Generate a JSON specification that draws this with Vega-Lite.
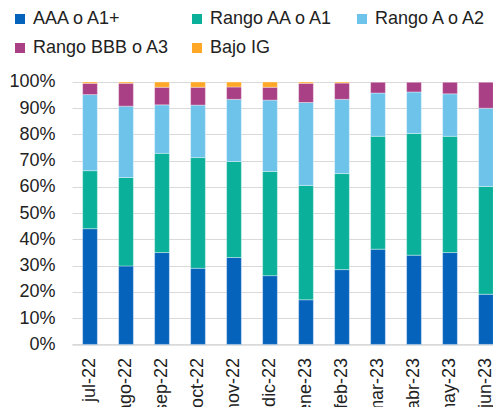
{
  "$schema": "https://vega.github.io/schema/vega-lite/v6.json",
  "autosize": {"type": "none"},
  "padding": {"left": 72, "top": 82, "right": 0, "bottom": 63},
  "width": 432,
  "height": 262.4,
  "background": "white",
  "config": {"view": {"stroke": null}, "font": "Liberation Sans"},
  "data": {"values": [
    {"mes": "jul-22", "serie": "AAA o A1+", "k": 1, "v": 44.1},
    {"mes": "jul-22", "serie": "Rango AA o A1", "k": 2, "v": 22.1},
    {"mes": "jul-22", "serie": "Rango A o A2", "k": 3, "v": 29.0},
    {"mes": "jul-22", "serie": "Rango BBB o A3", "k": 4, "v": 4.3},
    {"mes": "jul-22", "serie": "Bajo IG", "k": 5, "v": 0.5},
    {"mes": "ago-22", "serie": "AAA o A1+", "k": 1, "v": 29.9},
    {"mes": "ago-22", "serie": "Rango AA o A1", "k": 2, "v": 33.7},
    {"mes": "ago-22", "serie": "Rango A o A2", "k": 3, "v": 27.2},
    {"mes": "ago-22", "serie": "Rango BBB o A3", "k": 4, "v": 8.7},
    {"mes": "ago-22", "serie": "Bajo IG", "k": 5, "v": 0.5},
    {"mes": "sep-22", "serie": "AAA o A1+", "k": 1, "v": 35.0},
    {"mes": "sep-22", "serie": "Rango AA o A1", "k": 2, "v": 37.8},
    {"mes": "sep-22", "serie": "Rango A o A2", "k": 3, "v": 18.5},
    {"mes": "sep-22", "serie": "Rango BBB o A3", "k": 4, "v": 6.7},
    {"mes": "sep-22", "serie": "Bajo IG", "k": 5, "v": 2.0},
    {"mes": "oct-22", "serie": "AAA o A1+", "k": 1, "v": 29.0},
    {"mes": "oct-22", "serie": "Rango AA o A1", "k": 2, "v": 42.2},
    {"mes": "oct-22", "serie": "Rango A o A2", "k": 3, "v": 20.0},
    {"mes": "oct-22", "serie": "Rango BBB o A3", "k": 4, "v": 6.8},
    {"mes": "oct-22", "serie": "Bajo IG", "k": 5, "v": 2.0},
    {"mes": "nov-22", "serie": "AAA o A1+", "k": 1, "v": 33.1},
    {"mes": "nov-22", "serie": "Rango AA o A1", "k": 2, "v": 36.6},
    {"mes": "nov-22", "serie": "Rango A o A2", "k": 3, "v": 23.7},
    {"mes": "nov-22", "serie": "Rango BBB o A3", "k": 4, "v": 4.7},
    {"mes": "nov-22", "serie": "Bajo IG", "k": 5, "v": 1.9},
    {"mes": "dic-22", "serie": "AAA o A1+", "k": 1, "v": 26.2},
    {"mes": "dic-22", "serie": "Rango AA o A1", "k": 2, "v": 39.7},
    {"mes": "dic-22", "serie": "Rango A o A2", "k": 3, "v": 27.2},
    {"mes": "dic-22", "serie": "Rango BBB o A3", "k": 4, "v": 4.9},
    {"mes": "dic-22", "serie": "Bajo IG", "k": 5, "v": 2.0},
    {"mes": "ene-23", "serie": "AAA o A1+", "k": 1, "v": 17.0},
    {"mes": "ene-23", "serie": "Rango AA o A1", "k": 2, "v": 43.6},
    {"mes": "ene-23", "serie": "Rango A o A2", "k": 3, "v": 31.6},
    {"mes": "ene-23", "serie": "Rango BBB o A3", "k": 4, "v": 7.3},
    {"mes": "ene-23", "serie": "Bajo IG", "k": 5, "v": 0.5},
    {"mes": "feb-23", "serie": "AAA o A1+", "k": 1, "v": 28.5},
    {"mes": "feb-23", "serie": "Rango AA o A1", "k": 2, "v": 36.6},
    {"mes": "feb-23", "serie": "Rango A o A2", "k": 3, "v": 28.3},
    {"mes": "feb-23", "serie": "Rango BBB o A3", "k": 4, "v": 6.2},
    {"mes": "feb-23", "serie": "Bajo IG", "k": 5, "v": 0.4},
    {"mes": "mar-23", "serie": "AAA o A1+", "k": 1, "v": 36.3},
    {"mes": "mar-23", "serie": "Rango AA o A1", "k": 2, "v": 43.0},
    {"mes": "mar-23", "serie": "Rango A o A2", "k": 3, "v": 16.5},
    {"mes": "mar-23", "serie": "Rango BBB o A3", "k": 4, "v": 4.2},
    {"mes": "mar-23", "serie": "Bajo IG", "k": 5, "v": 0.0},
    {"mes": "abr-23", "serie": "AAA o A1+", "k": 1, "v": 34.0},
    {"mes": "abr-23", "serie": "Rango AA o A1", "k": 2, "v": 46.4},
    {"mes": "abr-23", "serie": "Rango A o A2", "k": 3, "v": 15.8},
    {"mes": "abr-23", "serie": "Rango BBB o A3", "k": 4, "v": 3.8},
    {"mes": "abr-23", "serie": "Bajo IG", "k": 5, "v": 0.0},
    {"mes": "may-23", "serie": "AAA o A1+", "k": 1, "v": 35.0},
    {"mes": "may-23", "serie": "Rango AA o A1", "k": 2, "v": 44.3},
    {"mes": "may-23", "serie": "Rango A o A2", "k": 3, "v": 16.2},
    {"mes": "may-23", "serie": "Rango BBB o A3", "k": 4, "v": 4.5},
    {"mes": "may-23", "serie": "Bajo IG", "k": 5, "v": 0.0},
    {"mes": "jun-23", "serie": "AAA o A1+", "k": 1, "v": 19.1},
    {"mes": "jun-23", "serie": "Rango AA o A1", "k": 2, "v": 41.1},
    {"mes": "jun-23", "serie": "Rango A o A2", "k": 3, "v": 29.8},
    {"mes": "jun-23", "serie": "Rango BBB o A3", "k": 4, "v": 10.0},
    {"mes": "jun-23", "serie": "Bajo IG", "k": 5, "v": 0.0}
  ]},
  "mark": {"type": "bar", "stroke": "white", "strokeWidth": 0.6, "strokeOpacity": 0.6},
  "encoding": {
    "x": {
      "field": "mes", "type": "nominal", "sort": null,
      "scale": {"paddingInner": 0.59, "paddingOuter": 0.295},
      "axis": {
        "title": null, "labelAngle": -90, "labelAlign": "right", "labelBaseline": "middle",
        "labelFontSize": 18, "labelColor": "#222", "labelPadding": 13,
        "ticks": false, "domainColor": "#D9D9D9", "domainWidth": 1.5, "grid": false
      }
    },
    "y": {
      "field": "v", "type": "quantitative", "stack": "normalize",
      "scale": {"domain": [0, 1]},
      "axis": {
        "title": null, "format": ".0%", "values": [0, 0.1, 0.2, 0.3, 0.4, 0.5, 0.6, 0.7, 0.8, 0.9, 1],
        "labelFontSize": 18, "labelColor": "#222", "labelPadding": 17,
        "ticks": false, "domain": false, "grid": true, "gridColor": "#D9D9D9", "gridWidth": 1.2
      }
    },
    "order": {"field": "k", "type": "quantitative", "sort": "ascending"},
    "color": {
      "field": "serie", "type": "nominal",
      "scale": {
        "domain": ["AAA o A1+", "Rango AA o A1", "Rango A o A2", "Rango BBB o A3", "Bajo IG"],
        "range": ["#0563BB", "#0BB09A", "#6DC3EA", "#A93F84", "#FFA726"]
      },
      "legend": {
        "title": null, "orient": "none", "legendX": -61, "legendY": -72,
        "direction": "horizontal", "columns": 3, "gridAlign": "each",
        "columnPadding": 18, "rowPadding": 11, "padding": 0,
        "symbolType": "square", "symbolSize": 100, "symbolStrokeWidth": 0,
        "labelFontSize": 18, "labelColor": "#222", "labelOffset": 4, "labelLimit": 300
      }
    }
  }
}
